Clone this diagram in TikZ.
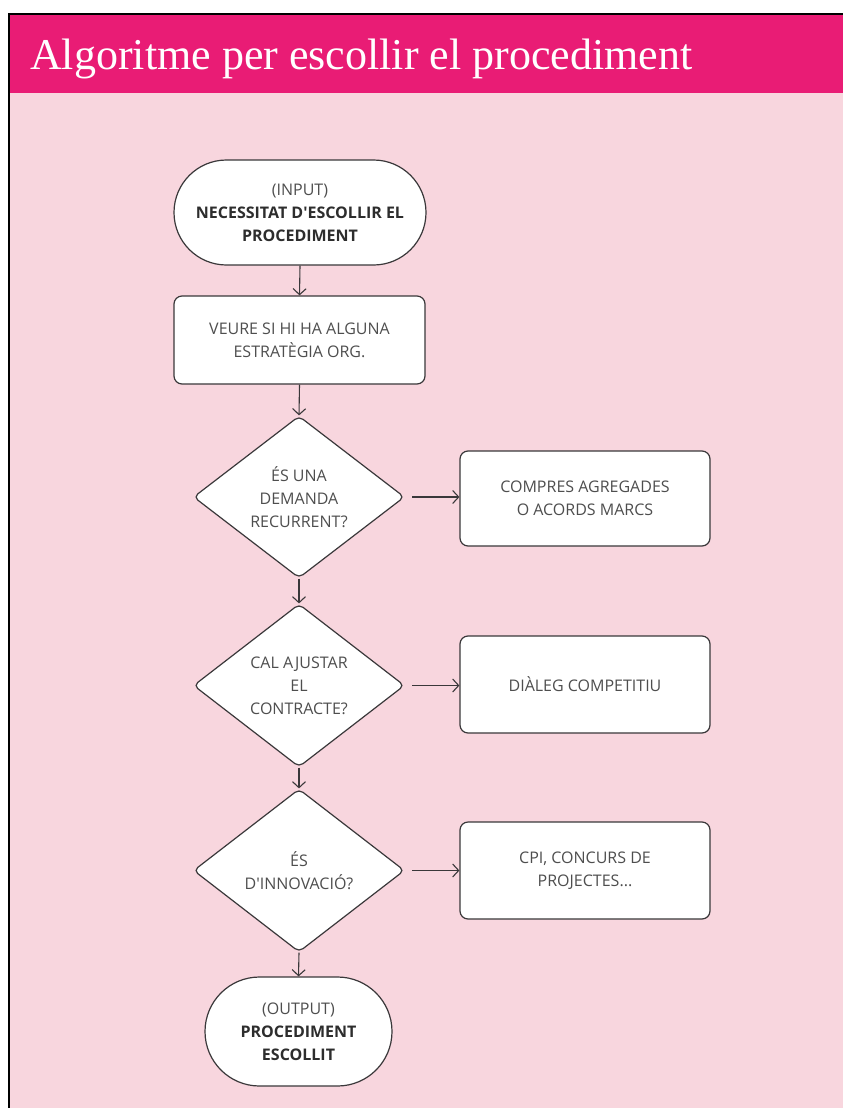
\documentclass[tikz,border=0pt]{standalone}
\usepackage{fontspec}
\newfontfamily\boxfont{Open Sans}[Ligatures=TeXOff]
\newfontfamily\headfont{Liberation Serif}
\usetikzlibrary{shapes.geometric,shapes.misc,arrows.meta}
\definecolor{headpink}{RGB}{233,28,117}
\definecolor{pagepink}{RGB}{248,214,222}
\definecolor{inkgray}{RGB}{58,56,58}
\definecolor{textgray}{RGB}{78,78,78}
\definecolor{darkgray}{RGB}{45,45,45}
\newcommand{\boldline}[1]{\textcolor{darkgray}{\bfseries #1}}
\begin{document}
\begin{tikzpicture}[x=1pt,y=-1pt,
  every node/.style={text=textgray},
  nodefont/.style={font=\boxfont\fontsize{16}{23}\selectfont},
  box/.style={draw=inkgray, line width=1.2pt, fill=white, rounded corners=8pt,
    align=center, inner sep=0pt, nodefont},
  terminal/.style={draw=inkgray, line width=1.2pt, fill=white, rounded rectangle,
    align=center, inner sep=0pt, nodefont},
  decision/.style={draw=inkgray, line width=1.2pt, fill=white, diamond,
    rounded corners=5pt, minimum width=211pt, minimum height=162pt,
    inner sep=0pt, align=center, nodefont},
  flow/.style={draw=inkgray, line width=1.1pt,
    -{Straight Barb[length=6pt,width=13pt,line width=1.1pt]}}
]
% page, header band and frame
\useasboundingbox (0,0) rectangle (843,1108);
\fill[white] (0,0) rectangle (843,1108);
\fill[pagepink] (9,93) rectangle (843,1108);
\fill[headpink] (9,14) rectangle (843,93);
\draw[black, line width=2.2pt] (9,1108) -- (9,14) -- (843,14);
\node[anchor=base west, text=white, inner sep=0pt,
  font=\headfont\fontsize{44}{50}\selectfont] (title) at (30,70)
  {Algoritme per escollir el procediment};

% main column
\node[terminal, minimum width=252pt, minimum height=105pt] (input) at (300,212.5)
  {(INPUT)\\\boldline{NECESSITAT D'ESCOLLIR EL}\\\boldline{PROCEDIMENT}};
\node[box, minimum width=251pt, minimum height=88pt] (veure) at (299.5,340)
  {VEURE SI HI HA ALGUNA\\ESTRATÈGIA ORG.};
\node[decision] (d1) at (299,497) {ÉS UNA\\DEMANDA\\RECURRENT?};
\node[decision, minimum height=163pt] (d2) at (299,685.5) {CAL AJUSTAR\\EL\\CONTRACTE?};
\node[decision, minimum height=163pt] (d3) at (299,870.5) {ÉS\\D'INNOVACIÓ?};
\node[terminal, minimum width=187pt, minimum height=109pt] (output) at (298.5,1031.5)
  {(OUTPUT)\\\boldline{PROCEDIMENT}\\\boldline{ESCOLLIT}};

% outcome boxes
\node[box, minimum width=250pt, minimum height=95pt] (b1) at (585,498.5)
  {COMPRES AGREGADES\\O ACORDS MARCS};
\node[box, minimum width=250pt, minimum height=97pt] (b2) at (585,684.5)
  {DIÀLEG COMPETITIU};
\node[box, minimum width=250pt, minimum height=97pt] (b3) at (585,870.5)
  {CPI, CONCURS DE\\PROJECTES...};

% connectors
\draw[flow] (input.south) -- (veure.north);
\draw[flow] (veure.south) -- (d1.north);
\draw[flow] (d1.south) -- (d2.north);
\draw[flow] (d2.south) -- (d3.north);
\draw[flow] (d3.south) -- (output.north);
\draw[flow] ([xshift=7pt]d1.east) -- (b1.west |- d1.east);
\draw[flow] ([xshift=7pt]d2.east) -- (b2.west |- d2.east);
\draw[flow] ([xshift=7pt]d3.east) -- (b3.west |- d3.east);
\end{tikzpicture}
\end{document}
